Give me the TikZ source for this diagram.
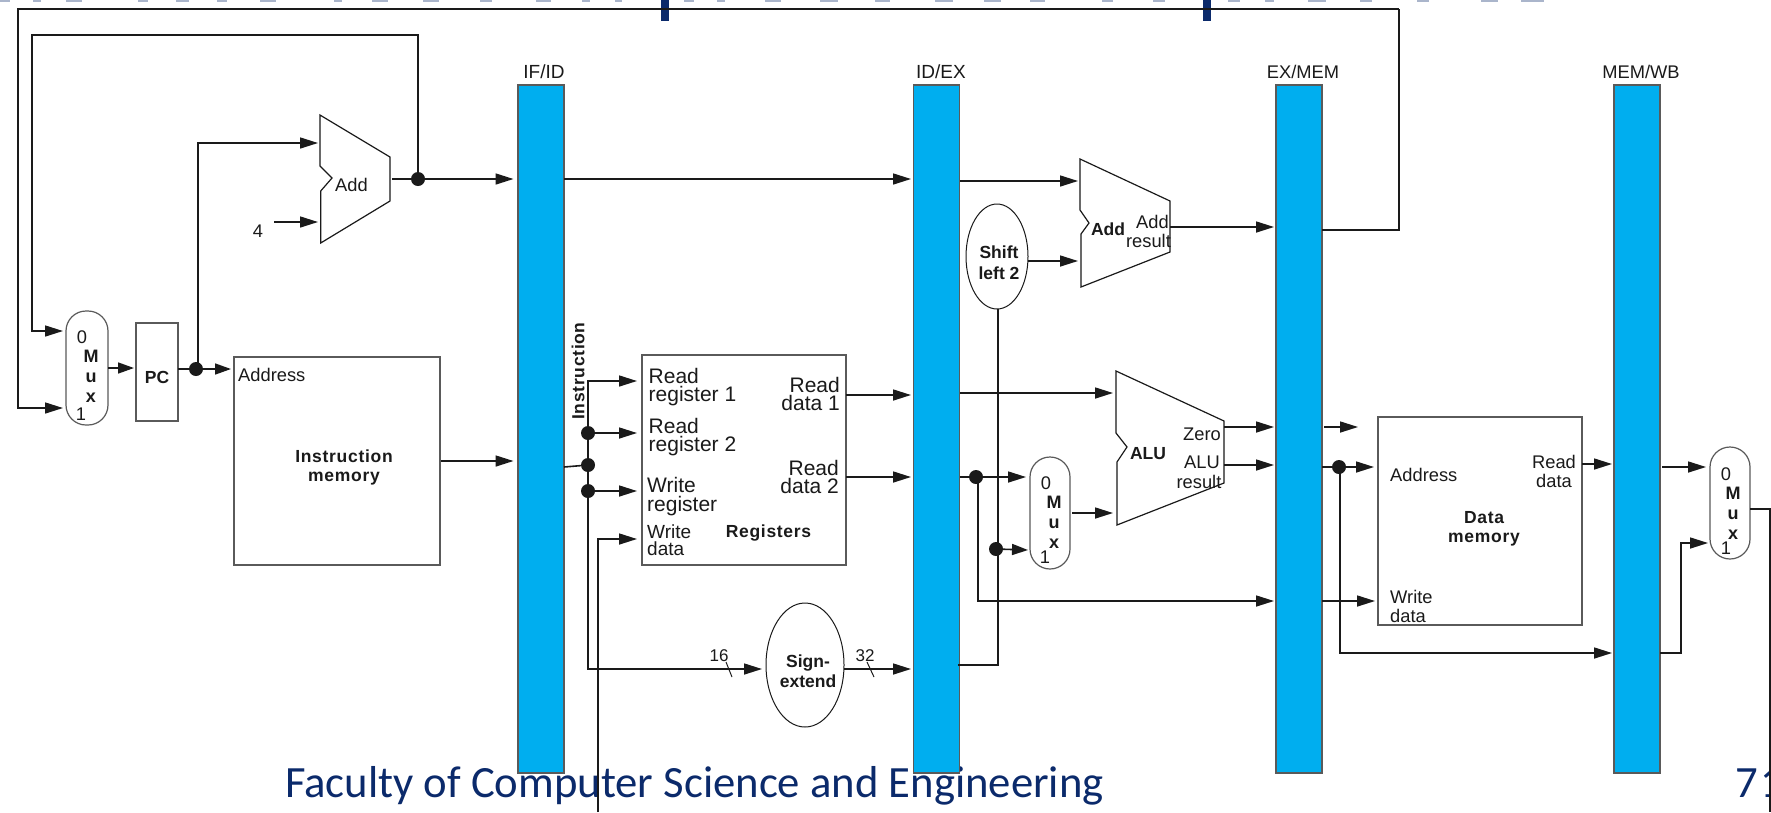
\documentclass[tikz,border=0pt]{standalone}
\usepackage{fontspec}
\setmainfont{Liberation Sans}
\newfontfamily\footfont{Carlito}
\newfontfamily\trackedbold[LetterSpace=4]{Liberation Sans Bold}
\usetikzlibrary{arrows.meta,shapes.geometric}
\definecolor{barblue}{HTML}{00AEEF}
\definecolor{ink}{HTML}{1A1A1A}
\definecolor{edge}{HTML}{5A5A5A}
\definecolor{navy}{HTML}{0B2A6B}
\tikzset{
  wire/.style={draw=ink,line width=1.6pt,line join=miter},
  arr/.style={wire,-{Triangle[length=18pt,width=11pt]}},
  thin wire/.style={draw=ink,line width=1pt},
  dot/.style={circle,fill=ink,minimum size=14pt,inner sep=0pt},
  regbar/.style={rectangle,draw=edge,line width=1.4pt,fill=barblue,inner sep=0pt,minimum width=46pt,minimum height=688pt},
  blk/.style={rectangle,draw=edge,line width=1.5pt,inner sep=0pt},
  caps/.style={rectangle,draw=edge,line width=1.2pt,rounded corners=20pt,inner sep=0pt,minimum width=40pt},
  oval/.style={ellipse,draw=ink,line width=1pt,inner sep=0pt},
  trap/.style={draw=ink,line width=1.2pt,line join=miter},
  lab/.style={inner sep=0pt,text=ink,font=\fontsize{18.3}{18.5}\selectfont},
  big/.style={inner sep=0pt,text=ink,font=\fontsize{21}{18.5}\selectfont},
  bold/.style={inner sep=0pt,text=ink,align=center,font=\fontsize{17.5}{19}\selectfont\bfseries},
  trk/.style={inner sep=0pt,text=ink,align=center,font=\fontsize{17.5}{19}\selectfont\trackedbold},
  ovallab/.style={inner sep=0pt,text=ink,align=center,font=\fontsize{17.5}{20.5}\selectfont\bfseries},
  muxl/.style={inner sep=0pt,text=ink,align=center,font=\fontsize{18}{20}\selectfont\bfseries},
  foot/.style={inner sep=0pt,text=navy,font=\footfont\fontsize{44.7}{46}\selectfont},
}
\begin{document}
\begin{tikzpicture}[x=1pt,y=-1pt]
\clip (0,0) rectangle (1771,812);
\fill[white] (0,0) rectangle (1771,812);

% title remnants at the top edge
\foreach \a/\b in {0/10,33/41,66/82,138/148,176/189,217/227,260/276,334/342,372/388,423/439,480/492,536/551,582/590,615/622,684/694,717/725,765/781,
  820/838,875/890,935/953,984/1001,1030/1045,1102/1113,1153/1165,1228/1240,1265/1274,1308/1326,1360/1372,1417/1429,1481/1498,1521/1544}
  \fill[navy!35] (\a,0) rectangle (\b,1.5);
\fill[navy] (661,0) rectangle (669,21);
\fill[navy] (1203,0) rectangle (1211,21);

% footer
\node[foot,anchor=base west] (footer) at (285,797) {Faculty of Computer Science and Engineering};
\node[foot,anchor=base west] (pagenum) at (1735,797) {7\kern3pt 1};

% pipeline registers
\node[regbar] (ifid)  at (541,429) {};
\node[regbar] (idex)  at (936.5,429) {};
\node[regbar] (exmem) at (1299,429) {};
\node[regbar] (memwb) at (1637,429) {};
\node[lab,font=\fontsize{19}{19}\selectfont] (ifidl)  at (544,72) {IF/ID};
\node[lab,font=\fontsize{19}{19}\selectfont] (idexl)  at (941,72) {ID/EX};
\node[lab] (exmeml) at (1303,72) {EX/MEM};
\node[lab] (memwbl) at (1641,72) {MEM/WB};

% blocks
\node[caps,minimum width=42pt,minimum height=114pt] (mux1) at (87,368) {};
\node[lab] (mux1a) at (82,337) {0};
\node[muxl] (mux1b) at (91,376.5) {M\\u\\x};
\node[lab] (mux1c) at (81,414) {1};

\node[blk,minimum width=42pt,minimum height=98pt] (pc) at (157,372) {};
\node[bold] (pcl) at (157,377.5) {PC};

\node[blk,minimum width=206pt,minimum height=208pt] (imem) at (337,461) {};
\node[lab,anchor=west] (imema) at (238,375) {Address};
\node[trk] (imemb) at (344,467.5) {Instruction\\memory};

\draw[trap] (320,115) -- (390,157) -- (390,201) -- (320.7,243) -- (320.7,191) -- (332,178) -- (320,166) -- cycle;
\node[lab] (addAl) at (351.5,185) {Add};
\node[lab] (four) at (258,231) {4};

\node[trk,rotate=90] (instr) at (578,371) {Instruction};

\node[blk,minimum width=204pt,minimum height=210pt] (regs) at (744,460) {};
\node[big,anchor=west,align=left] (rr1) at (648.5,387) {Read\\register 1};
\node[big,anchor=west,align=left] (rr2) at (648.5,437) {Read\\register 2};
\node[big,anchor=west,align=left] (wr) at (647,496.5) {Write\\register};
\node[lab,anchor=west,align=left,font=\fontsize{19}{16.5}\selectfont] (wd) at (647,540) {Write\\data};
\node[big,anchor=east,align=right] (rd1) at (840,394) {Read\\data 1};
\node[big,anchor=east,align=right] (rd2) at (839,477) {Read\\data 2};
\node[trk] (regl) at (768.5,533) {Registers};

\node[oval,minimum width=78pt,minimum height=124pt] (signext) at (805,665) {};
\node[ovallab] (signl) at (808,671) {Sign-\\extend};
\node[lab,font=\fontsize{17}{17}\selectfont] (n16) at (719,655.5) {16};
\node[lab,font=\fontsize{17}{17}\selectfont] (n32) at (865,655.5) {32};

\node[oval,minimum width=62pt,minimum height=105pt] (shift) at (997,256.5) {};
\node[ovallab] (shiftl) at (999,262.5) {Shift\\left 2};

\draw[trap] (1080,159) -- (1170,201) -- (1170,252) -- (1081,287) -- (1081,234) -- (1089,223) -- (1080,210) -- cycle;
\node[bold] (addBl) at (1108,229) {Add};
\node[lab,align=center] (addBr) at (1148.5,231.5) {\hspace*{8pt}Add\\result};

\draw[trap] (1116,371) -- (1224,421) -- (1224,483) -- (1117,525) -- (1117,462) -- (1127,447) -- (1116,433) -- cycle;
\node[bold] (alul) at (1148,454) {ALU};
\node[lab,anchor=east] (zero) at (1221,434) {Zero};
\node[lab,anchor=east] (alur1) at (1220,462) {ALU};
\node[lab] (alur2) at (1199,482) {result};

\node[caps,minimum height=112pt] (mux2) at (1050,513) {};
\node[lab] (mux2a) at (1046,483) {0};
\node[muxl] (mux2b) at (1054,522.5) {M\\u\\x};
\node[lab] (mux2c) at (1045,557) {1};

\node[blk,minimum width=204pt,minimum height=208pt] (dmem) at (1480,521) {};
\node[lab,anchor=west] (dma) at (1390,475) {Address};
\node[lab,align=center] (dmr) at (1554,471.5) {Read\\data};
\node[trk] (dml) at (1484,529) {Data\\memory};
\node[lab,anchor=west,align=left] (dmw) at (1390,606.5) {Write\\data};

\node[caps,minimum height=112pt] (mux3) at (1730,503) {};
\node[lab] (mux3a) at (1726,474) {0};
\node[muxl] (mux3b) at (1733,513) {M\\u\\x};
\node[lab] (mux3c) at (1726,548) {1};

% junction dots
\node[dot] (dPC) at (196,369) {};
\node[dot] (dAdd) at (418,179) {};
\node[dot] (dI1) at (588,433) {};
\node[dot] (dI2) at (588,465) {};
\node[dot] (dI3) at (588,491) {};
\node[dot] (dRD) at (976,477) {};
\node[dot] (dSh) at (996,549) {};
\node[dot] (dEx) at (1339,467) {};

% named ports
\foreach \n/\x/\y in {
  mux1i0/63/331, mux1i1/63/408, mux1o/108/368, pcin/134/368, pco/178/369, imemin/231/369,
  pcUp/198/143, addAin1/318/143, fourS/274/222, addAin2/318/222, addAo/392/179,
  loopTR/418/35, loopTL/32/35, jumpTR/1399/9, jumpTL/18/9, jumpR/1399/230, exmemOj/1322/230,
  ifidI1/513.5/179, imemo/441/461, ifidI2/513.5/461,
  ifidO1/564/179, idexI1/911/179, ifidO2/564/467,
  iTop/588/381, rr1in/637/381, rr2in/637/433, wrin/637/491, iBot/588/669, signin/762/669,
  wdBot/598/812, wdTurn/598/539, wdin/637/539,
  regO1/846/395, idexI2/911/395, regO2/846/477, idexI3/911/477,
  signo/844/669, idexI4/911/669,
  t16a/726/662, t16b/732/677, t32a/867/662, t32b/874/677,
  idexO1/960/181, addBi1/1078/181, shiftO/1028/261, addBi2/1078/261,
  addBo/1170/227, exmemI1/1274/227,
  idexO2/960/393, aluI1/1113/393, idexO3/960/477, mux2i0/1026/477,
  idexO4/958/665, shiftB/998/665, shiftD/998/309,
  mux2i1/1028/550, mux2o/1072/513, aluI2/1113/513,
  rdTurn/978/601, exmemI4/1274/601,
  aluZ/1224/427, exmemI2/1274/427, aluR/1224/465, exmemI3/1274/465,
  zeroA/1324/427, zeroB/1358/427,
  exmemO2/1322/467, dmemA/1374/467, exmemO3/1322/601, dmemW/1375/601,
  exTurn/1340/653, memwbI2/1612/653,
  dmemO/1582/464, memwbI1/1612/464,
  memwbO1/1662/467, mux3i0/1706/467,
  memwbO2/1660/653, mwTurn/1681/653, mwUp/1681/543, mux3i1/1708/543,
  mux3o/1750/509, wbR/1770/509, wbB/1770/812}
  \coordinate (\n) at (\x,\y);

% connectors
\draw[arr] (jumpTR) -- (jumpTL) |- (mux1i1);
\draw[wire] (exmemOj) -- (jumpR) -- (jumpTR);
\draw[arr] (dAdd) -- (loopTR) -- (loopTL) |- (mux1i0);
\draw[arr,-{Triangle[length=16pt,width=11pt]}] (mux1o) -- (pcin);
\draw[wire] (pco) -- (dPC);
\draw[arr,-{Triangle[length=16pt,width=11pt]}] (dPC) -- (imemin);
\draw[arr] (dPC -| pcUp) -- (pcUp) -- (addAin1);
\draw[arr] (fourS) -- (addAin2);
\draw[wire] (addAo) -- (dAdd);
\draw[arr] (dAdd) -- (ifidI1);
\draw[arr] (imemo) -- (ifidI2);
\draw[arr] (ifidO1) -- (idexI1);
\draw[wire] (ifidO2) -- (dI2);
\draw[arr] (dI1) -- (iTop) -- (rr1in);
\draw[arr] (dI1) -- (rr2in);
\draw[arr] (dI3) -- (wrin);
\draw[wire] (dI1) -- (dI3);
\draw[arr] (dI3) -- (iBot) -- (signin);
\draw[arr] (wdBot) -- (wdTurn) -- (wdin);
\draw[arr] (regO1) -- (idexI2);
\draw[arr] (regO2) -- (idexI3);
\draw[arr] (signo) -- (idexI4);
\draw[thin wire] (t16a) -- (t16b);
\draw[thin wire] (t32a) -- (t32b);
\draw[arr] (idexO1) -- (addBi1);
\draw[arr] (shiftO) -- (addBi2);
\draw[arr] (addBo) -- (exmemI1);
\draw[wire] (idexO4) -- (shiftB) -- (shiftD);
\draw[arr] (idexO2) -- (aluI1);
\draw[wire] (idexO3) -- (dRD);
\draw[arr] (dRD) -- (mux2i0);
\draw[arr,-{Triangle[length=16pt,width=11pt]}] (dSh) -- (mux2i1);
\draw[arr] (mux2o) -- (aluI2);
\draw[arr] (dRD -| rdTurn) -- (rdTurn) -- (exmemI4);
\draw[arr] (aluZ) -- (exmemI2);
\draw[arr] (aluR) -- (exmemI3);
\draw[arr] (zeroA) -- (zeroB);
\draw[wire] (exmemO2) -- (dEx);
\draw[arr] (dEx) -- (dmemA);
\draw[arr] (exmemO3) -- (dmemW);
\draw[arr] (dEx -| exTurn) -- (exTurn) -- (memwbI2);
\draw[arr] (dmemO) -- (memwbI1);
\draw[arr] (memwbO1) -- (mux3i0);
\draw[arr] (memwbO2) -- (mwTurn) -- (mwUp) -- (mux3i1);
\draw[wire] (mux3o) -- (wbR) -- (wbB);
\end{tikzpicture}
\end{document}
